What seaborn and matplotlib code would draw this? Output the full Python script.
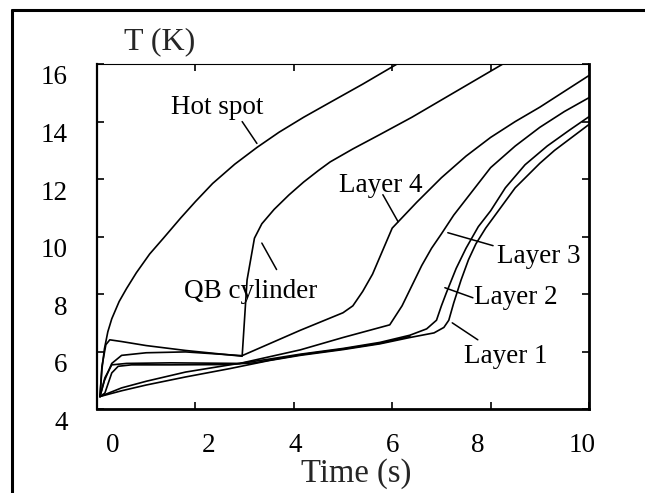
import numpy as np
import pandas as pd
import matplotlib
matplotlib.use("Agg")
import matplotlib.pyplot as plt
from matplotlib.transforms import ScaledTranslation
from matplotlib.lines import Line2D
import seaborn as sns

# curve data: time (s) and temperature (K)
hot_t = [0.06, 0.1, 0.15, 0.22, 0.3, 0.45, 0.6, 0.8, 1.07, 1.35, 1.7, 2.0, 2.35, 2.8, 3.25, 3.7, 4.2, 4.72, 5.4, 6.1]
hot_T = [4.45, 5.4, 6.1, 6.7, 7.15, 7.75, 8.2, 8.75, 9.4, 9.95, 10.65, 11.22, 11.85, 12.52, 13.1, 13.63, 14.15, 14.65, 15.3, 16.0]

qb_t = [0.06, 0.1, 0.18, 0.26, 0.5, 1.0, 1.8, 2.95, 3.05, 3.2, 3.35, 3.6, 3.9, 4.2, 4.5, 4.74, 5.2, 5.75, 6.4, 7.0, 7.6, 8.25]
qb_T = [4.45, 5.5, 6.25, 6.42, 6.36, 6.22, 6.05, 5.85, 8.5, 9.95, 10.45, 10.95, 11.45, 11.9, 12.3, 12.6, 13.05, 13.55, 14.15, 14.75, 15.35, 16.0]

l4_t = [0.06, 0.15, 0.3, 0.5, 1.0, 1.8, 2.95, 4.13, 5.0, 5.2, 5.4, 5.6, 5.8, 6.0, 6.5, 7.0, 7.5, 8.0, 8.5, 9.0, 9.5, 10.0]
l4_T = [4.45, 5.0, 5.6, 5.88, 5.97, 6.0, 5.87, 6.75, 7.36, 7.6, 8.1, 8.7, 9.5, 10.3, 11.2, 12.05, 12.8, 13.45, 14.0, 14.5, 15.05, 15.6]

l3_t = [0.06, 0.16, 0.3, 0.6, 1.5, 2.9, 4.13, 5.0, 5.95, 6.2, 6.4, 6.6, 6.8, 7.0, 7.25, 7.5, 8.0, 8.5, 9.0, 9.5, 10.0]
l3_T = [4.45, 5.1, 5.55, 5.6, 5.62, 5.6, 6.07, 6.5, 6.94, 7.6, 8.3, 9.0, 9.6, 10.1, 10.75, 11.3, 12.4, 13.15, 13.8, 14.35, 14.83]

l2_t = [0.06, 0.5, 1.0, 1.8, 2.7, 3.5, 4.13, 5.0, 5.75, 6.36, 6.7, 6.9, 7.0, 7.1, 7.3, 7.5, 7.75, 8.0, 8.3, 8.7, 9.15, 9.6, 10.0]
l2_T = [4.45, 4.75, 4.98, 5.3, 5.55, 5.75, 5.92, 6.12, 6.33, 6.58, 6.8, 7.1, 7.6, 8.05, 8.9, 9.6, 10.35, 10.9, 11.7, 12.5, 13.15, 13.7, 14.17]

l1_t = [0.06, 0.5, 1.0, 1.8, 2.7, 3.5, 4.13, 5.0, 5.75, 6.36, 6.85, 7.05, 7.15, 7.25, 7.4, 7.55, 7.7, 7.9, 8.2, 8.5, 9.0, 9.3, 9.65, 10.0]
l1_T = [4.45, 4.65, 4.85, 5.13, 5.42, 5.7, 5.88, 6.08, 6.28, 6.5, 6.66, 6.85, 7.1, 7.7, 8.5, 9.2, 9.75, 10.3, 11.0, 11.7, 12.55, 13.0, 13.45, 13.9]

# unlabelled curve that rounds up to the 5.5 K plateau and joins the lower band
extra_t = [0.06, 0.16, 0.3, 0.43, 0.7, 1.5, 2.6, 3.2, 3.6, 4.13, 5.0, 5.75, 6.36]
extra_T = [4.45, 4.57, 5.27, 5.5, 5.55, 5.55, 5.56, 5.62, 5.74, 5.9, 6.1, 6.3, 6.54]

curves = {
    "Hot spot": (hot_t, hot_T),
    "QB cylinder": (qb_t, qb_T),
    "Layer 4": (l4_t, l4_T),
    "Layer 3": (l3_t, l3_T),
    "Layer 2": (l2_t, l2_T),
    "Layer 1": (l1_t, l1_T),
    "extra": (extra_t, extra_T),
}

x_ticks = [0, 2, 4, 6, 8, 10]
y_ticks = [4, 6, 8, 10, 12, 14, 16]

# label text, text position, pointer start, pointer end (data coords)
labels = [
    ("Hot spot", (2.44, 14.49), (2.95, 14.0), (3.25, 13.24)),
    ("QB cylinder", (3.13, 8.09), (3.35, 9.78), (3.65, 8.86)),
    ("Layer 4", (5.77, 11.77), (5.81, 11.46), (6.12, 10.52)),
    ("Layer 3", (8.98, 9.3), (7.13, 10.14), (8.05, 9.69)),
    ("Layer 2", (8.52, 7.88), (7.07, 8.23), (7.64, 7.88)),
    ("Layer 1", (8.31, 5.83), (7.22, 7.01), (7.74, 6.42)),
]

rows = []
for name, (ts, Ts) in curves.items():
    for t, T in zip(ts, Ts):
        rows.append({"t": t, "T": T, "curve": name})
df = pd.DataFrame(rows)

sns.set_style("ticks")
plt.rcParams["font.family"] = ["Liberation Serif", "DejaVu Serif"]

fig = plt.figure(figsize=(6.45, 4.93), dpi=100)
ax = fig.add_axes([0.1504, 0.1694, 0.7628, 0.7008])

sns.lineplot(data=df, x="t", y="T", units="curve", estimator=None, sort=False,
             color="black", linewidth=1.2, ax=ax, legend=False)

ax.set_xlim(0, 10)
ax.set_ylim(4, 16)
ax.set_xticks(x_ticks)
ax.set_yticks(y_ticks)
ax.set_xlabel("")
ax.set_ylabel("")

for side in ["left", "right", "top", "bottom"]:
    ax.spines[side].set_visible(True)
    ax.spines[side].set_color("black")
ax.spines["left"].set_linewidth(1.6)
ax.spines["bottom"].set_linewidth(2.0)
ax.spines["right"].set_linewidth(2.0)
ax.spines["top"].set_linewidth(0.8)

ax.tick_params(axis="both", direction="in", length=5, width=1.2, colors="black",
               labelsize=19.5, top=True, right=True)
ax.tick_params(axis="y", pad=21)
ax.tick_params(axis="x", pad=17)

# tick labels in the original sit slightly off their ticks
x_shift = [16, 13, 1, 0, -13, -7]
for lab, dx in zip(ax.get_xticklabels(), x_shift):
    lab.set_transform(lab.get_transform() + ScaledTranslation(dx / 100, 0, fig.dpi_scale_trans))
for lab in ax.get_yticklabels():
    lab.set_transform(lab.get_transform() + ScaledTranslation(0, -11 / 100, fig.dpi_scale_trans))

for text, pos, p0, p1 in labels:
    ax.text(pos[0], pos[1], text, fontsize=19.5, ha="center", va="center", color="black")
    ax.plot([p0[0], p1[0]], [p0[1], p1[1]], color="black", linewidth=1.1)

fig.text(356 / 645, 1 - 474 / 493, "Time (s)", fontsize=23.5, ha="center", va="center")
fig.text(160 / 645, 1 - 42 / 493, "T (K)", fontsize=23, ha="center", va="center")

# outer frame (left and top edges visible)
fig.add_artist(Line2D([12 / 645, 12 / 645], [0, 1 - 10 / 493], transform=fig.transFigure,
                      color="black", linewidth=2.2))
fig.add_artist(Line2D([12 / 645, 1], [1 - 10 / 493, 1 - 10 / 493], transform=fig.transFigure,
                      color="black", linewidth=2.2))

fig.savefig("out.png", dpi=100, facecolor="white")
plt.close(fig)
